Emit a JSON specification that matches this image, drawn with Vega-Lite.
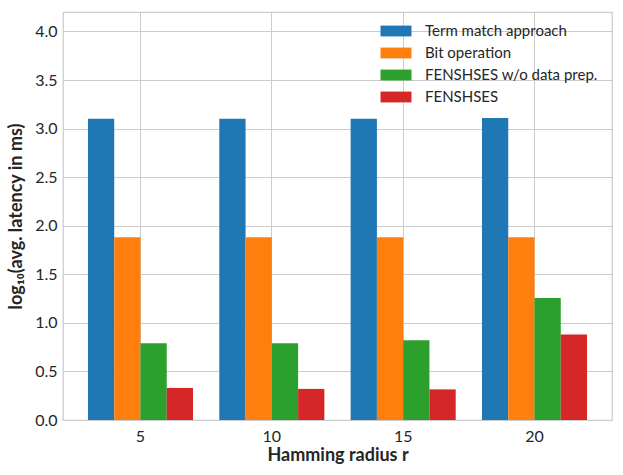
{
  "$schema": "https://vega.github.io/schema/vega-lite/v6.json",
  "width": 549,
  "height": 408,
  "autosize": "none",
  "padding": {"left": 63, "top": 12, "right": 11, "bottom": 55},
  "background": "white",
  "data": {
    "values": [
      {"radius": "5", "method": "Term match approach", "latency": 3.10},
      {"radius": "5", "method": "Bit operation", "latency": 1.88},
      {"radius": "5", "method": "FENSHSES w/o data prep.", "latency": 0.79},
      {"radius": "5", "method": "FENSHSES", "latency": 0.33},
      {"radius": "10", "method": "Term match approach", "latency": 3.10},
      {"radius": "10", "method": "Bit operation", "latency": 1.88},
      {"radius": "10", "method": "FENSHSES w/o data prep.", "latency": 0.79},
      {"radius": "10", "method": "FENSHSES", "latency": 0.32},
      {"radius": "15", "method": "Term match approach", "latency": 3.10},
      {"radius": "15", "method": "Bit operation", "latency": 1.88},
      {"radius": "15", "method": "FENSHSES w/o data prep.", "latency": 0.82},
      {"radius": "15", "method": "FENSHSES", "latency": 0.315},
      {"radius": "20", "method": "Term match approach", "latency": 3.11},
      {"radius": "20", "method": "Bit operation", "latency": 1.88},
      {"radius": "20", "method": "FENSHSES w/o data prep.", "latency": 1.255},
      {"radius": "20", "method": "FENSHSES", "latency": 0.88}
    ]
  },
  "mark": {"type": "bar"},
  "encoding": {
    "x": {
      "field": "radius",
      "type": "ordinal",
      "sort": ["5", "10", "15", "20"],
      "scale": {"paddingInner": 0.2, "paddingOuter": 0.19},
      "title": "Hamming radius r",
      "axis": {
        "bandPosition": 0.5,
        "labelAngle": 0,
        "ticks": false,
        "domain": false,
        "grid": true,
        "labelPadding": 8,
        "titlePadding": 2
      }
    },
    "xOffset": {
      "field": "method",
      "type": "nominal",
      "sort": ["Term match approach", "Bit operation", "FENSHSES w/o data prep.", "FENSHSES"],
      "scale": {"paddingInner": 0, "paddingOuter": 0}
    },
    "y": {
      "field": "latency",
      "type": "quantitative",
      "scale": {"domain": [0, 4.2], "nice": false},
      "title": "log₁₀(avg. latency in ms)",
      "axis": {
        "values": [0, 0.5, 1, 1.5, 2, 2.5, 3, 3.5, 4],
        "format": ".1f",
        "ticks": false,
        "domain": false,
        "labelPadding": 6,
        "titlePadding": 9
      }
    },
    "color": {
      "field": "method",
      "type": "nominal",
      "sort": ["Term match approach", "Bit operation", "FENSHSES w/o data prep.", "FENSHSES"],
      "scale": {
        "domain": ["Term match approach", "Bit operation", "FENSHSES w/o data prep.", "FENSHSES"],
        "range": ["#1f77b4", "#ff7f0e", "#2ca02c", "#d62728"]
      },
      "legend": {
        "title": null,
        "orient": "none",
        "legendX": 325,
        "legendY": 11,
        "padding": 0,
        "symbolType": "M-2,-0.7H2V0.7H-2Z",
        "symbolSize": 240,
        "symbolStrokeWidth": 0,
        "symbolOpacity": 1,
        "labelOffset": 21,
        "labelFontSize": 15,
        "labelLimit": 400,
        "labelColor": "#262626",
        "labelFont": "Lato",
        "rowPadding": 6
      }
    }
  },
  "config": {
    "font": "Lato",
    "view": {"stroke": "#cccccc", "strokeWidth": 1.25},
    "axis": {
      "gridColor": "#cccccc",
      "gridWidth": 1,
      "gridOpacity": 1,
      "labelFont": "Lato",
      "labelFontSize": 16,
      "labelColor": "#262626",
      "titleFont": "Lato",
      "titleFontSize": 18,
      "titleFontWeight": "bold",
      "titleColor": "#262626"
    }
  }
}
